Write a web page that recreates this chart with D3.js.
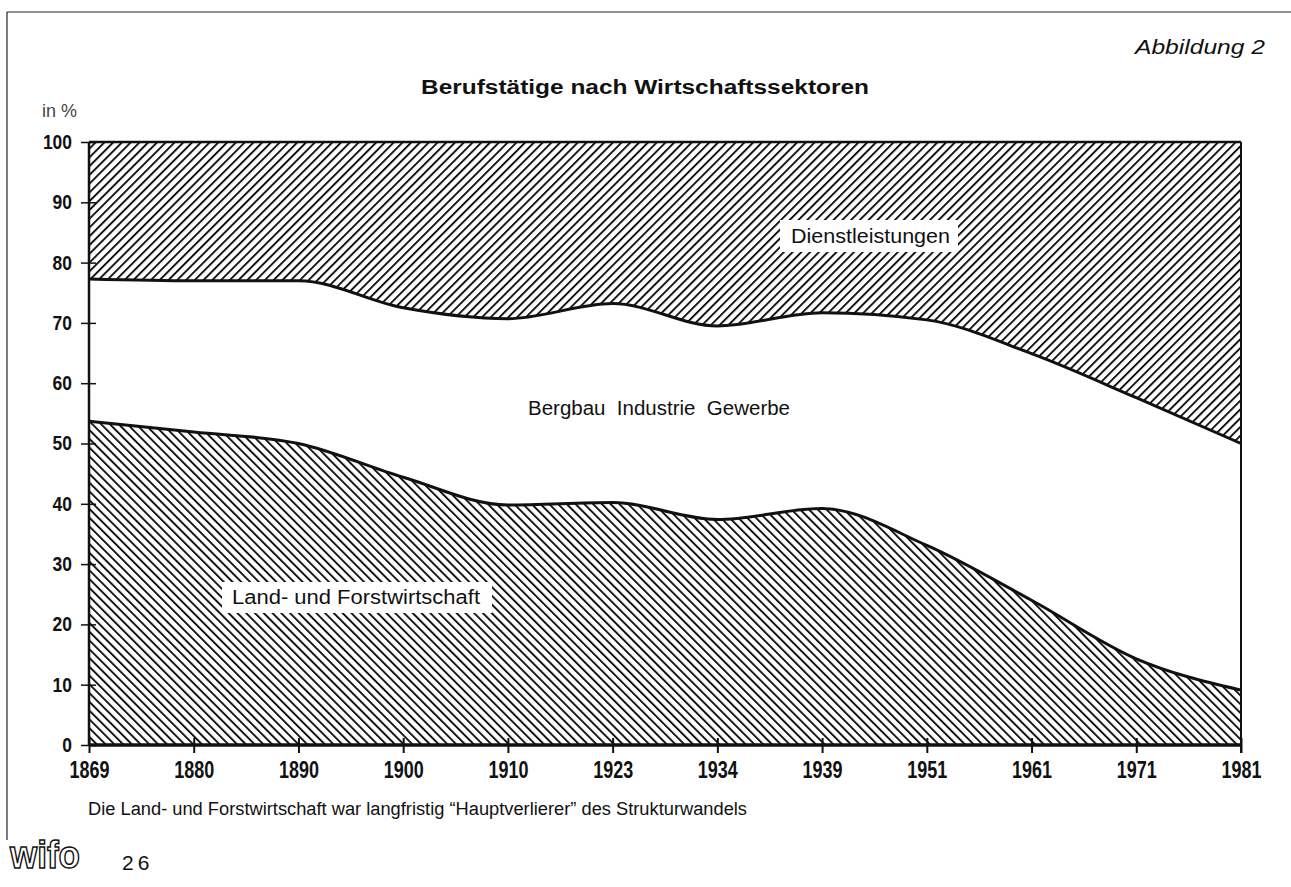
<!DOCTYPE html>
<meta charset="utf-8">
<head>
  <title>Berufstätige nach Wirtschaftssektoren</title>
  <script src="https://cdn.jsdelivr.net/npm/d3@7"></script>
  <style>
    body { margin: 0; background: #fff; }
    svg text { font-family: "Liberation Sans", Arial, sans-serif; }
    .domain { display: none; }
  </style>
</head>
<body>
<div id="chart"></div>
<script>

// census years (categorical, equally spaced on the axis)
var years = ["1869", "1880", "1890", "1900", "1910", "1923", "1934", "1939", "1951", "1961", "1971", "1981"];

// share of employed persons in %
var landForst  = [53.7, 51.9, 50.0, 44.4, 39.8, 40.2, 37.4, 39.2, 33.1, 24.0, 14.3, 9.1];
var industrie  = [23.6, 25.1, 27.0, 28.1, 30.9, 33.0, 32.1, 32.5, 37.4, 40.9, 43.3, 40.9];
var dienst     = [22.7, 23.0, 23.0, 27.5, 29.3, 26.8, 30.5, 28.3, 29.5, 35.1, 42.4, 50.0];

var yTicks = [0, 10, 20, 30, 40, 50, 60, 70, 80, 90, 100];

var W = 1291, H = 887;
var margin = {left: 89, right: 50, top: 142, bottom: 142};
var ink = "#111";

var svg = d3.select("#chart").append("svg")
  .attr("width", W)
  .attr("height", H);

// hatch patterns
var defs = svg.append("defs");
function hatch(id, angle) {
  var p = defs.append("pattern")
    .attr("id", id)
    .attr("patternUnits", "userSpaceOnUse")
    .attr("width", 6.2)
    .attr("height", 6.2)
    .attr("patternTransform", "rotate(" + angle + ")");
  p.append("rect").attr("width", 6.2).attr("height", 6.2).attr("fill", "#fff");
  p.append("rect").attr("x", 0).attr("width", 1.9).attr("height", 6.2).attr("fill", ink);
}
hatch("hatchUp", 45);
hatch("hatchDown", -45);

var x = d3.scalePoint()
  .domain(years)
  .range([margin.left, W - margin.right]);

var y = d3.scaleLinear()
  .domain([0, 100])
  .range([H - margin.bottom, margin.top]);

var table = years.map(function(yr, i) {
  return {year: yr, land: landForst[i], ind: industrie[i], dienst: dienst[i]};
});

var stack = d3.stack().keys(["land", "ind", "dienst"]);
var series = stack(table);

var area = d3.area()
  .x(function(d) { return x(d.data.year); })
  .y0(function(d) { return y(d[0]); })
  .y1(function(d) { return y(d[1]); })
  .curve(d3.curveMonotoneX);

var fills = {land: "url(#hatchDown)", ind: "#fff", dienst: "url(#hatchUp)"};

svg.append("g")
  .selectAll("path")
  .data(series)
  .enter().append("path")
  .attr("d", area)
  .attr("fill", function(d) { return fills[d.key]; });

// boundary lines between sectors
var line = d3.line()
  .x(function(d) { return x(d.data.year); })
  .y(function(d) { return y(d[1]); })
  .curve(d3.curveMonotoneX);

svg.append("g")
  .selectAll("path")
  .data(series.slice(0, 2))
  .enter().append("path")
  .attr("d", line)
  .attr("fill", "none")
  .attr("stroke", ink)
  .attr("stroke-width", 3);

// frame of the plot
svg.append("line")
  .attr("x1", x.range()[0]).attr("x2", x.range()[1])
  .attr("y1", y(100)).attr("y2", y(100))
  .attr("stroke", ink).attr("stroke-width", 2.5);
svg.append("line")
  .attr("x1", x.range()[0]).attr("x2", x.range()[1])
  .attr("y1", y(0)).attr("y2", y(0))
  .attr("stroke", ink).attr("stroke-width", 3.5);
svg.append("line")
  .attr("x1", x.range()[0]).attr("x2", x.range()[0])
  .attr("y1", y(100)).attr("y2", y(0))
  .attr("stroke", ink).attr("stroke-width", 2.5);
svg.append("line")
  .attr("x1", x.range()[1]).attr("x2", x.range()[1])
  .attr("y1", y(100)).attr("y2", y(0) + 8)
  .attr("stroke", ink).attr("stroke-width", 2);

// y axis
var yAxis = svg.append("g")
  .attr("transform", "translate(" + margin.left + ",0)")
  .call(d3.axisLeft(y).tickValues(yTicks).tickSize(8).tickPadding(9));
yAxis.selectAll(".tick line").attr("stroke", ink).attr("stroke-width", 1.5);
yAxis.selectAll(".tick text")
  .attr("font-size", 20)
  .attr("font-weight", "bold")
  .attr("fill", ink)
  .attr("textLength", function(d) { return String(d).length * 9.7; })
  .attr("lengthAdjust", "spacingAndGlyphs");

svg.append("g")
  .attr("transform", "translate(" + margin.left + ",0)")
  .call(d3.axisRight(y).tickValues(yTicks).tickSize(7).tickFormat(""))
  .selectAll(".tick line").attr("stroke", ink).attr("stroke-width", 1.5);

// x axis
var xAxis = svg.append("g")
  .attr("transform", "translate(0," + y(0) + ")")
  .call(d3.axisBottom(x).tickSize(8).tickPadding(9));
xAxis.selectAll(".tick line").attr("stroke", ink).attr("stroke-width", 2);
xAxis.selectAll(".tick text")
  .attr("font-size", 23)
  .attr("font-weight", "bold")
  .attr("fill", ink)
  .attr("textLength", 40)
  .attr("lengthAdjust", "spacingAndGlyphs");

svg.append("g")
  .attr("transform", "translate(0," + y(0) + ")")
  .call(d3.axisTop(x).tickSize(7).tickFormat(""))
  .selectAll(".tick line").attr("stroke", ink).attr("stroke-width", 2);

// helper for stretched text
function label(txt, tx, ty, size, len) {
  return svg.append("text")
    .attr("x", tx).attr("y", ty)
    .attr("font-size", size)
    .attr("fill", ink)
    .attr("textLength", len)
    .attr("lengthAdjust", "spacingAndGlyphs")
    .text(txt);
}

// sector labels
svg.append("rect").attr("x", 780).attr("y", 220).attr("width", 178).attr("height", 32).attr("fill", "#fff");
label("Dienstleistungen", 791, 243, 20, 159);

svg.append("rect").attr("x", 222).attr("y", 582).attr("width", 270).attr("height", 31).attr("fill", "#fff");
label("Land- und Forstwirtschaft", 232, 604, 20, 248);

label("Bergbau  Industrie  Gewerbe", 528, 415, 20, 262)
  .attr("xml:space", "preserve");

// titles and notes
label("Berufstätige nach Wirtschaftssektoren", 421, 94, 20, 448)
  .attr("font-weight", "bold");

label("Abbildung 2", 1135, 54, 21, 130)
  .attr("font-style", "italic");

svg.append("text")
  .attr("x", 42).attr("y", 117)
  .attr("font-size", 18)
  .attr("fill", "#444")
  .text("in %");

label("Die Land- und Forstwirtschaft war langfristig “Hauptverlierer” des Strukturwandels", 88, 815, 18, 659);

// page frame
svg.append("line")
  .attr("x1", 7).attr("x2", W).attr("y1", 12).attr("y2", 12)
  .attr("stroke", "#222").attr("stroke-width", 1.2);
svg.append("line")
  .attr("x1", 7).attr("x2", 7).attr("y1", 12).attr("y2", 840)
  .attr("stroke", "#222").attr("stroke-width", 1.2);

// logo and page number
svg.append("text")
  .attr("x", 10).attr("y", 868)
  .attr("font-size", 38)
  .attr("font-weight", "bold")
  .attr("fill", "#fff")
  .attr("stroke", ink)
  .attr("stroke-width", 1.5)
  .attr("textLength", 70)
  .attr("lengthAdjust", "spacingAndGlyphs")
  .text("wifo");

svg.append("text")
  .attr("x", 122).attr("y", 870)
  .attr("font-size", 21)
  .attr("fill", ink)
  .attr("letter-spacing", 4)
  .text("26");

</script>
</body>
